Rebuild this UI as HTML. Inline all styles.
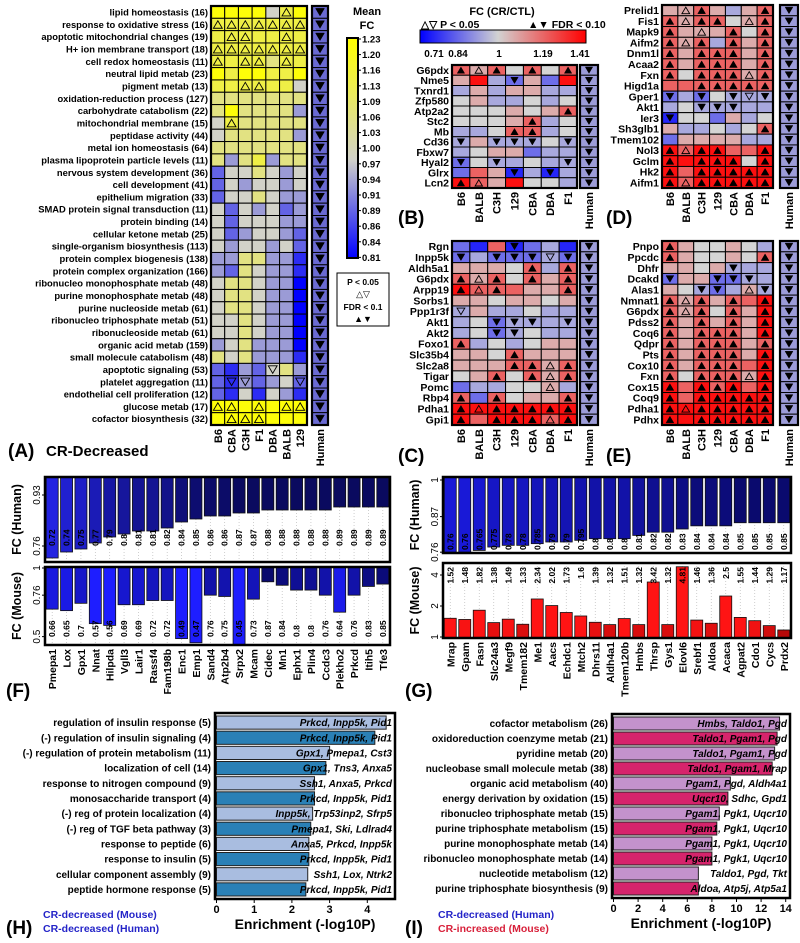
<!DOCTYPE html>
<html><head><meta charset="utf-8"><style>
html,body{margin:0;padding:0;background:#fff;}
svg{display:block;font-family:"Liberation Sans",Arial,sans-serif;font-weight:bold;}
</style></head><body>
<svg id="fig" xmlns="http://www.w3.org/2000/svg" width="800" height="943" viewBox="0 0 800 943">
<defs>
<linearGradient id="gA" x1="0" y1="0" x2="0" y2="1"><stop offset="0" stop-color="#ffff00"/><stop offset="0.55" stop-color="#d2d2c8"/><stop offset="1" stop-color="#0000ff"/></linearGradient>
<linearGradient id="gB" x1="0" y1="0" x2="1" y2="0"><stop offset="0" stop-color="#0000ff"/><stop offset="0.47" stop-color="#d2d2d2"/><stop offset="1" stop-color="#ff0000"/></linearGradient>
</defs>
<g>
<text x="367" y="15" font-size="11" text-anchor="middle">Mean</text>
<text x="367" y="29" font-size="11" text-anchor="middle">FC</text>
<rect x="347" y="38" width="11" height="220" fill="url(#gA)" stroke="#000" stroke-width="2"/>
</g>
<g>
<rect x="337" y="273" width="52" height="53" fill="#fff" stroke="#000" stroke-width="1"/>
<text x="363" y="285" font-size="8.5" text-anchor="middle">P &lt; 0.05</text>
<text x="363" y="297" font-size="9" text-anchor="middle" font-weight="normal">△▽</text>
<text x="363" y="310" font-size="8.5" text-anchor="middle">FDR &lt; 0.1</text>
<text x="363" y="322" font-size="9" text-anchor="middle">▲▼</text>
</g>
<g>
<text x="502" y="15" font-size="11" text-anchor="middle">FC (CR/CTL)</text>
<text x="421" y="28" font-size="10.5" font-weight="bold">△▽ P &lt; 0.05</text>
<text x="528" y="28" font-size="10.5">▲▼ FDR &lt; 0.10</text>
<rect x="420" y="30" width="166" height="13" fill="url(#gB)" stroke="#000" stroke-width="1"/>
<text x="434" y="57" font-size="10" text-anchor="middle">0.71</text>
<text x="458" y="57" font-size="10" text-anchor="middle">0.84</text>
<text x="499" y="57" font-size="10" text-anchor="middle">1</text>
<text x="543" y="57" font-size="10" text-anchor="middle">1.19</text>
<text x="580" y="57" font-size="10" text-anchor="middle">1.41</text>
</g>
<text x="8" y="457" font-size="19">(A)</text>
<text x="46" y="456" font-size="15">CR-Decreased</text>
<text x="398" y="224" font-size="19">(B)</text>
<text x="398" y="462" font-size="19">(C)</text>
<text x="606" y="224" font-size="19">(D)</text>
<text x="606" y="462" font-size="19">(E)</text>
<text x="6" y="697" font-size="19">(F)</text>
<text x="405" y="697" font-size="19">(G)</text>
<text x="6" y="934" font-size="19">(H)</text>
<text x="405" y="934" font-size="19">(I)</text>
<text x="43" y="918" font-size="10.5" fill="#2424c8">CR-decreased (Mouse)</text>
<text x="43" y="932" font-size="10.5" fill="#2424c8">CR-decreased (Human)</text>
<text x="438" y="918" font-size="10.5" fill="#2424c8">CR-decreased (Human)</text>
<text x="438" y="932" font-size="10.5" fill="#d8203a">CR-increased (Mouse)</text>
</svg>
<script>
// ---------- DATA ----------
const aRows=["lipid homeostasis (16)","response to oxidative stress (16)","apoptotic mitochondrial changes (19)","H+ ion membrane transport (18)","cell redox homeostasis (11)","neutral lipid metab (23)","pigment metab (13)","oxidation-reduction process (127)","carbohydrate catabolism (22)","mitochondrial membrane (15)","peptidase activity (44)","metal ion homeostasis (64)","plasma lipoprotein particle levels (11)","nervous system development (36)","cell development (41)","epithelium migration (33)","SMAD protein signal transduction (11)","protein binding (14)","cellular ketone metab (25)","single-organism biosynthesis (113)","protein complex biogenesis (138)","protein complex organization (166)","ribonucleo monophosphate metab (48)","purine monophosphate metab (48)","purine nucleoside metab (61)","ribonucleo triphosphate metab (51)","ribonucleoside metab (61)","organic acid metab (159)","small molecule catabolism (48)","apoptotic signaling (53)","platelet aggregation (11)","endothelial cell proliferation (12)","glucose metab (17)","cofactor biosynthesis (32)"];
const aCols=["B6","CBA","C3H","F1","DBA","BALB","129"];
const aCells=[
"Y Y Y Y g yu Y","yu yu yu yu yu yu yu","y yu yu y y yu y","yu yu yu yu yu yu yu","yu y yu yu l yu y",
"Y y Y Y y y Y","y y yu yu y y g","l l l l l l l","l Y l l l l b","g yu l l l l l",
"g l l l l l b","l l l l l l l","l b l y b l l","B g g l g b g","B g b g g b g",
"B g g l g b b","g B g b g B b","g B g g g b b","g B b g g b B","g b g g b g B",
"b b l l b b D","b B l g b b D","g l l g b b X","g l l g b b X","g l l g b b X",
"g g l g b b X","g g l g b b X","b g l b b b X","l g l b b b D","B D b B gd l b",
"B Dd bd B b g Bd","B D g D g b D","Yu Yu Y Yu Y Yu Yu","Y Yu Yu Yu Y Y Y"];
const aLevels={Y:1.22,y:1.15,l:1.08,g:1.0,b:0.95,B:0.9,D:0.85,X:0.81};
const aTicks=["1.23","1.20","1.16","1.13","1.09","1.06","1.03","1.00","0.97","0.94","0.91","0.89","0.86","0.84","0.81"];

const mCols=["B6","BALB","C3H","129","CBA","DBA","F1"];
const bLevels={R:1.38,r:1.22,p:1.08,g:1.0,c:0.94,C:0.86,K:0.76};
const bGenes=["G6pdx","Nme5","Txnrd1","Zfp580","Atp2a2","Stc2","Mb","Cd36","Fbxw7","Hyal2","Glrx","Lcn2"];
const bCells=["rU pu rU g rU g rU","p R c CD p C R","c p c p p c c","g p c c g c g","g g g p g p rU","g g g p rU c g","c c g rU rU c g","cD p cD cD cD g cD","c g p p C c c","CD g cD c g c cD","C r p KD c KD c","RU ru p R g g c"];
const dGenes=["Prelid1","Fis1","Mapk9","Aifm2","Dnm1l","Acaa2","Fxn","Higd1a","Gper1","Akt1","Ier3","Sh3glb1","Tmem102","Nol3","Gclm","Hk2","Aifm1"];
const dCells=["p pu rU p c p rU","rU pu rU rU g pu rU","rU p pu p rU g rU","rU pu rU c rU p rU","rU p rU rU rU p rU","rU p rU rU rU p rU","rU g rU rU rU pu rU","r r rU rU rU rU rU","CD c CD g cD cd cD","c g cD cD cD c c","KD g g C p c g","p c c g c g rU","C p p p p c c","RU ru RU RU r r RU","RU R RU RU RU g RU","RU r RU RU RU RU RU","RU ru RU RU RU RU RU"];
const cGenes=["Rgn","Inpp5k","Aldh5a1","G6pdx","Arpp19","Sorbs1","Ppp1r3f","Akt1","Akt2","Foxo1","Slc35b4","Slc2a8","Tigar","Pomc","Rbp4","Pdha1","Gpi1"];
const cCells=["C K r KD C c K","CD c CD CD CD cd CD","p p p g rU c rU","rU pu rU g rU p rU","RU ru rU r p p rU","p p g p p g p","cd p c c g c c","c g CD cD cD c cD","c g CD cD g c c","rU c g c g p p","p p g rU p p p","p p p rU rU pu rU","g p rU g rU pu rU","C c c g g pu c","rU C rU g p p rU","RU Ru RU RU RU RU RU","RU r RU RU RU ru RU"];
const eGenes=["Pnpo","Ppcdc","Dhfr","Dcakd","Alas1","Nmnat1","G6pdx","Pdss2","Coq6","Qdpr","Pts","Cox10","Fxn","Cox15","Coq9","Pdha1","Pdhx"];
const eCells=["rU p g g p g c","rU p g g p g rU","p p g p cD c c","CD p p CD CD cD c","p g cD CD c pu cD","rU pu rU p rU r RU","rU pu rU g rU p RU","rU p rU p rU p RU","rU p rU rU rU p RU","rU p rU rU rU p rU","rU p rU rU rU p RU","rU p rU rU rU r RU","rU g rU rU rU pu RU","RU r RU rU RU r RU","RU r RU RU RU RU RU","RU Ru RU RU RU RU RU","RU R RU RU RU RU RU"];

const fGenes=["Pmepa1","Lox","Gpx1","Nnat","Hilpda","Vgll3","Lair1","Rassf4","Fam198b","Enc1","Emp1","Sand4","Atp2b4","Srpx2","Mcam","Cidec","Mn1","Ephx1","Plin4","Ccdc3","Plekho2","Prkcd","Itih5","Tfe3"];
const fHuman=[0.72,0.74,0.75,0.77,0.79,0.8,0.81,0.81,0.82,0.84,0.85,0.86,0.86,0.87,0.87,0.88,0.88,0.88,0.88,0.88,0.89,0.89,0.89,0.89];
const fMouse=[0.66,0.65,0.7,0.57,0.56,0.69,0.69,0.72,0.72,0.49,0.47,0.76,0.75,0.45,0.73,0.87,0.84,0.8,0.8,0.76,0.64,0.76,0.83,0.85];
const gGenes=["Mrap","Gpam","Fasn","Slc24a3","Megf9","Tmem182","Me1","Aacs","Echdc1","Mtch2","Dhrs11","Aldh4a1","Tmem120b","Hmbs","Thrsp","Gys1","Elovl6","Srebf1","Aldoa","Acaca","Agpat2","Cdo1","Cycs","Prdx2"];
const gHuman=[0.76,0.76,0.765,0.775,0.78,0.78,0.785,0.79,0.79,0.795,0.8,0.8,0.8,0.81,0.82,0.82,0.83,0.84,0.84,0.84,0.85,0.85,0.85,0.85];
const gMouse=[1.52,1.48,1.82,1.38,1.49,1.33,2.34,2.02,1.73,1.6,1.39,1.32,1.51,1.32,3.42,1.32,4.81,1.46,1.36,2.5,1.55,1.44,1.29,1.17];

const hTerms=["regulation of insulin response (5)","(-) regulation of insulin signaling (4)","(-) regulation of protein metabolism (11)","localization of cell (14)","response to nitrogen compound (9)","monosaccharide transport (4)","(-) reg of protein localization (4)","(-) reg of TGF beta pathway (3)","response to peptide (6)","response to insulin (5)","cellular component assembly (9)","peptide hormone response (5)"];
const hValues=[4.5,4.2,3.0,2.9,2.6,2.6,2.55,2.5,2.45,2.45,2.42,2.37];
const hGenes=["Prkcd, Inpp5k, Pid1","Prkcd, Inpp5k, Pid1","Gpx1, Pmepa1, Cst3","Gpx1, Tns3, Anxa5","Ssh1, Anxa5, Prkcd","Prkcd, Inpp5k, Pid1","Inpp5k, Trp53inp2, Sfrp5","Pmepa1, Ski, Ldlrad4","Anxa5, Prkcd, Inpp5k","Prkcd, Inpp5k, Pid1","Ssh1, Lox, Ntrk2","Prkcd, Inpp5k, Pid1"];
const hTicks=[0,1,2,3,4];
const iTerms=["cofactor metabolism (26)","oxidoreduction coenzyme metab (21)","pyridine metab (20)","nucleobase small molecule metab (38)","organic acid metabolism (40)","energy derivation by oxidation (15)","ribonucleo triphosphate metab (15)","purine triphosphate metabolism (15)","purine monophosphate metab (14)","ribonucleo monophosphate metab (14)","nucleotide metabolism (12)","purine triphosphate biosynthesis (9)"];
const iValues=[13.5,13.3,13.1,12.9,9.5,9.3,8.6,8.4,8.0,8.0,6.9,6.9];
const iGenes=["Hmbs, Taldo1, Pgd","Taldo1, Pgam1, Pgd","Taldo1, Pgam1, Pgd","Taldo1, Pgam1, Mrap","Pgam1, Pgd, Aldh4a1","Uqcr10, Sdhc, Gpd1","Pgam1, Pgk1, Uqcr10","Pgam1, Pgk1, Uqcr10","Pgam1, Pgk1, Uqcr10","Pgam1, Pgk1, Uqcr10","Taldo1, Pgd, Tkt","Aldoa, Atp5j, Atp5a1"];
const iTicks=[0,2,4,6,8,10,12,14];

// ---------- HELPERS ----------
const NS="http://www.w3.org/2000/svg";
const svg=document.getElementById("fig");
function mk(tag,attrs,parent){const e=document.createElementNS(NS,tag);for(const k in attrs)e.setAttribute(k,attrs[k]);(parent||svg).appendChild(e);return e;}
function tx(s,attrs,parent){const t=mk("text",attrs,parent);t.textContent=s;return t;}
function lerp(a,b,t){t=Math.max(0,Math.min(1,t));return "rgb("+a.map((v,i)=>Math.round(v+(b[i]-v)*t)).join(",")+")";}
function colA(v){return v>=1?lerp([210,210,200],[255,255,0],(v-1)/0.23):lerp([210,210,200],[0,0,255],(1-v)/0.19);}
function colB(v){return v>=1?lerp([212,212,212],[255,0,0],(v-1)/0.41):lerp([212,212,212],[0,0,255],(1-v)/0.29);}
function tri(g,cx,cy,s,dir,filled){
  const h=s*0.85;
  const d=dir==="up"?`M${cx-s/2},${cy+h/2}L${cx+s/2},${cy+h/2}L${cx},${cy-h/2}Z`:`M${cx-s/2},${cy-h/2}L${cx+s/2},${cy-h/2}L${cx},${cy+h/2}Z`;
  const p=mk("path",{d:d,fill:filled?"#000":"none",stroke:"#000","stroke-width":filled?0.5:0.9},g);
  
  
}
function heat(name,x0,x1,y0,y1,rows,cols,cells,levels,colFn,hx,hw,fs,humanFill){
  const g=mk("g",{});
  
  
  const n=rows.length,cw=(x1-x0)/cols.length,rh=(y1-y0)/n;
  rows.forEach((r,i)=>{
    const cy=y0+rh*i+rh/2;
    const lb=tx(r,{x:x0-3,y:cy+fs*0.36,"font-size":fs,"text-anchor":"end"},g);
    
    
    cells[i].split(" ").forEach((c,j)=>{
      const v=levels[c[0]];
      const rc=mk("rect",{x:x0+j*cw,y:y0+i*rh,width:cw,height:rh,fill:colFn(v),stroke:"#000","stroke-width":1},g);
      
      
      const m=c[1];
      if(m){const s=Math.min(cw,rh)*0.72;tri(g,x0+j*cw+cw/2,cy,s,(m==="u"||m==="U")?"up":"down",(m==="U"||m==="D"));}
    });
    const hc=mk("rect",{x:hx,y:y0+i*rh,width:hw,height:rh,fill:humanFill,stroke:"#000","stroke-width":1},g);
    
    
    tri(g,hx+hw/2,cy,Math.min(hw,rh)*0.72,"down",true);
  });
  const fr=mk("rect",{x:x0,y:y0,width:x1-x0,height:y1-y0,fill:"none",stroke:"#000","stroke-width":2.2},g);
  
  
  const hf=mk("rect",{x:hx,y:y0,width:hw,height:y1-y0,fill:"none",stroke:"#000","stroke-width":2.2},g);
  
  
  cols.concat(["Human"]).forEach((c,j)=>{
    const cx=j<cols.length?x0+j*cw+cw/2:hx+hw/2;
    const t=tx(c,{x:cx+4,y:y1+4,"font-size":11,"text-anchor":"end",transform:`rotate(-90 ${cx+4} ${y1+4})`},g);
    
    
  });
}

// ---------- HEATMAPS ----------
heat("heatmap-a",211,307,6,425,aRows,aCols,aCells,aLevels,colA,312,16,9.4,"#6a6ad2");
heat("heatmap-b",452,577,65,188,bGenes,mCols,bCells,bLevels,colB,580,18,10.5,"#9c9cd8");
heat("heatmap-c",452,577,241,425,cGenes,mCols,cCells,bLevels,colB,580,18,10.5,"#9c9cd8");
heat("heatmap-d",662,773,5,188,dGenes,mCols,dCells,bLevels,colB,780,18,10.5,"#9c9cd8");
heat("heatmap-e",662,773,241,425,eGenes,mCols,eCells,bLevels,colB,780,18,10.5,"#9c9cd8");
aTicks.forEach((t,i)=>{
  const y=39+i*15.6;
  const l=tx(t,{x:362,y:y+3.5,"font-size":9.5},svg);
  
  
  mk("line",{x1:358,x2:361,y1:y,y2:y,stroke:"#000"});
});

// ---------- BAR PANELS F/G ----------
function barPanel(name,x0,x1,yt,yb,genes,vals,yFn,base,colFn,labelY,labelAnchor,labels,titleTxt,ticks,tx0){
  const g=mk("g",{});
  
  
  const slot=(x1-x0)/genes.length;
  vals.forEach((v,i)=>{
    const cx=x0+slot*i+slot/2;
    const ln=mk("line",{x1:cx,x2:cx,y1:yt,y2:yb,stroke:"#bbb","stroke-width":0.7,"stroke-dasharray":"1,2"},g);
    
    
    const yv=Math.max(yt,Math.min(yb,yFn(v)));
    const b=mk("rect",{x:cx-6,y:Math.min(base,yv),width:12,height:Math.abs(yv-base),fill:colFn(v),stroke:"#111","stroke-width":0.8},g);
    
    
    if(labels){
      const lt=tx(String(v),{x:cx+3,y:labelY,"font-size":8.5,"text-anchor":labelAnchor,transform:`rotate(-90 ${cx+3} ${labelY})`},g);
      
      
    }
  });
  const fr=mk("rect",{x:x0,y:yt,width:x1-x0,height:yb-yt,fill:"none",stroke:"#000","stroke-width":2.5},g);
  
  
  ticks.forEach(t=>{
    const y=yFn(t);
    mk("line",{x1:x0-3,x2:x0,y1:y,y2:y,stroke:"#000"},g);
    const tl=tx(String(t),{x:x0-5,y:y,"font-size":10,"font-weight":"normal","text-anchor":"middle",transform:`rotate(-90 ${x0-5} ${y})`},g);
    
    
  });
  const ty=(yt+yb)/2;
  const tt=tx(titleTxt,{x:tx0,y:ty,"font-size":12.5,"text-anchor":"middle",transform:`rotate(-90 ${tx0} ${ty})`},g);
  
  
}
function geneLabels(name,x0,x1,y,genes){
  const slot=(x1-x0)/genes.length;
  genes.forEach((gn,i)=>{
    const cx=x0+slot*i+slot/2+4;
    const t=tx(gn,{x:cx,y:y,"font-size":10.5,"text-anchor":"end",transform:`rotate(-90 ${cx} ${y})`});
    
    
  });
}
const fTopY=v=>495+(0.93-v)*300;
const fBotY=v=>568-Math.log(v)*99;
barPanel("panel-f-human",45,390,477,562,fGenes,fHuman,fTopY,477,v=>lerp([35,35,225],[10,10,95],(v-0.72)/0.15),546,"start",true,"FC (Human)",[0.93,0.76],21);
barPanel("panel-f-mouse",45,390,567,645,fGenes,fMouse,fBotY,567,v=>lerp([30,30,255],[10,10,110],(v-0.6)/0.27),637,"start",true,"FC (Mouse)",[1,0.76,0.5],21);
geneLabels("f-gene-label",45,390,649,fGenes);
const gTopY=v=>480-Math.log(v)*263;
const gBotY=v=>637-Math.log2(v)*31;
barPanel("panel-g-human",443,791,477,553,gGenes,gHuman,gTopY,477,v=>lerp([25,25,215],[10,10,110],(v-0.76)/0.09),550,"start",true,"FC (Human)",[1,0.87,0.76],419);
barPanel("panel-g-mouse",443,791,563,638,gGenes,gMouse,gBotY,638,v=>lerp([140,0,0],[255,20,20],Math.log2(v)/0.6),567,"end",true,"FC (Mouse)",[4,2,1],419);
geneLabels("g-gene-label",443,791,642,gGenes);

// ---------- ENRICHMENT H/I ----------
function enrich(name,x0,x1,y0,y1,terms,vals,genes,ticks,unit,c1,c2){
  const g=mk("g",{});
  
  
  const xs=v=>x0+1.5+v*unit;
  const rh=(y1-y0-4)/terms.length;
  terms.forEach((t,i)=>{
    const cy=y0+2+rh*i+rh/2;
    const b=mk("rect",{x:x0+1.5,y:cy-rh/2+1,width:xs(vals[i])-x0-1.5,height:rh-2,fill:i%2?c2:c1,stroke:"#222","stroke-width":1},g);
    
    
    const l=tx(t,{x:x0-4,y:cy+3.5,"font-size":10,"text-anchor":"end"},g);
    
    
    const gl=tx(genes[i],{x:x1-3,y:cy+3.5,"font-size":10,"font-style":"italic","text-anchor":"end"},g);
    
    
  });
  const fr=mk("rect",{x:x0,y:y0,width:x1-x0,height:y1-y0,fill:"none",stroke:"#000","stroke-width":2.5},g);
  
  
  ticks.forEach(t=>{
    const x=xs(t);
    mk("line",{x1:x,x2:x,y1:y1,y2:y1+4,stroke:"#000"},g);
    const tl=tx(String(t),{x:x,y:y1+14,"font-size":11,"text-anchor":"middle"},g);
    
    
  });
  const at=tx("Enrichment (-log10P)",{x:(x0+x1)/2,y:y1+30,"font-size":14,"text-anchor":"middle"},g);
  
  
}
enrich("panel-h",215,395,713,899,hTerms,hValues,hGenes,hTicks,37.7,"#a9bde0","#2a80b6");
enrich("panel-i",612,790,714,898,iTerms,iValues,iGenes,iTicks,12.3,"#c492cc","#d6246c");
</script>
</body></html>
